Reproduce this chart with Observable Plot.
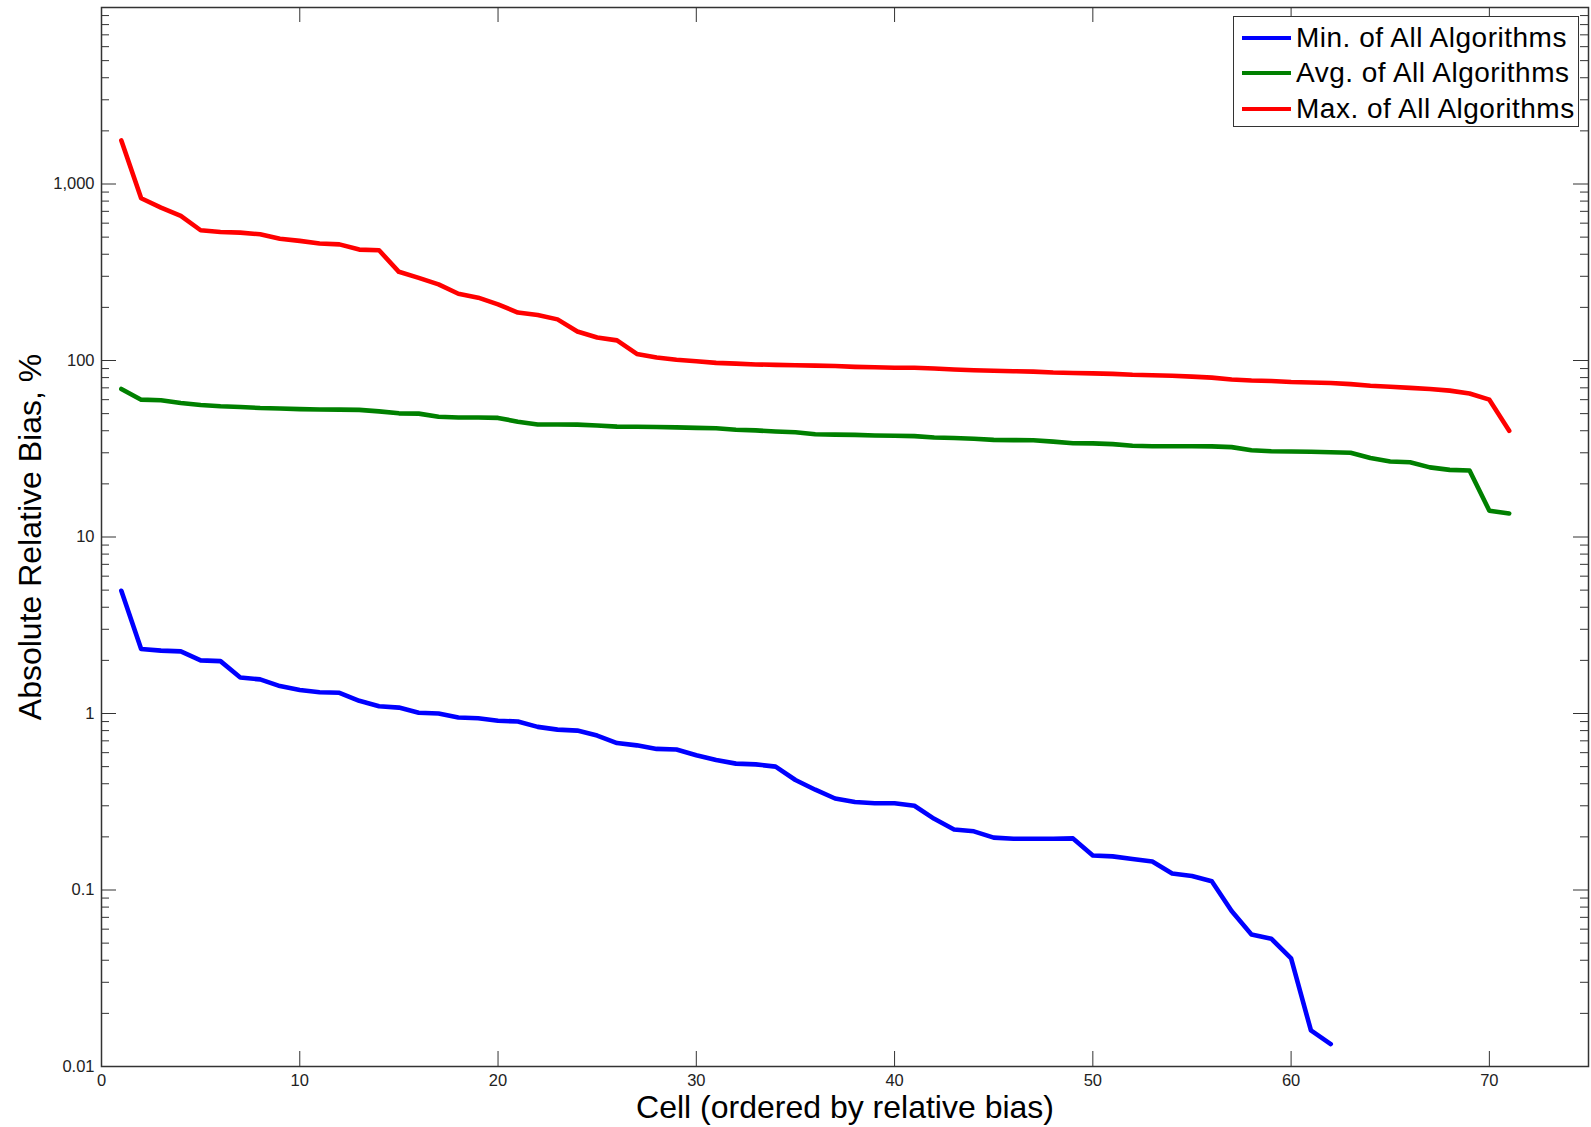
<!DOCTYPE html>
<html>
<head>
<meta charset="utf-8">
<script src="https://cdn.jsdelivr.net/npm/d3@7"></script>
<script src="https://cdn.jsdelivr.net/npm/@observablehq/plot@0.6"></script>
<style>
  body { margin: 0; background: #fff; font-family: "Liberation Sans", Arial, sans-serif; }
  #wrap { position: relative; width: 1591px; height: 1127px; }
  #legend { position: absolute; left: 1233px; top: 16px; width: 346px; height: 111px;
            border: 1px solid #333; background: #fff; box-sizing: border-box; }
  .row { position: absolute; left: 0; height: 36px; display: flex; align-items: center; }
  .swatch { width: 49px; height: 4px; margin-left: 8px; margin-right: 5px; }
  .lab { font-size: 28px; letter-spacing: 0.5px; color: #000; white-space: nowrap; }
</style>
</head>
<body>
<div id="wrap"></div>
<script>
// ---- data ----
const seriesNames = ["Min. of All Algorithms", "Avg. of All Algorithms", "Max. of All Algorithms"];
const seriesColors = ["#0000ff", "#008000", "#ff0000"];

const minValues = [4.96, 2.32, 2.27, 2.25, 2.0, 1.98, 1.6, 1.56, 1.43, 1.36,
  1.32, 1.31, 1.18, 1.1, 1.08, 1.01, 1.0, 0.95, 0.94, 0.91,
  0.90, 0.84, 0.81, 0.80, 0.75, 0.68, 0.66, 0.63, 0.625, 0.58,
  0.545, 0.52, 0.515, 0.50, 0.42, 0.37, 0.33, 0.315, 0.31, 0.31,
  0.30, 0.253, 0.22, 0.215, 0.198, 0.195, 0.195, 0.195, 0.196, 0.157,
  0.155, 0.150, 0.145, 0.124, 0.12, 0.112, 0.076, 0.056, 0.053, 0.041,
  0.016, 0.0134];

const avgValues = [69, 60, 59.5, 57.5, 56, 55, 54.5, 53.8, 53.5, 53,
  52.8, 52.7, 52.5, 51.5, 50.2, 50, 48, 47.5, 47.5, 47.3,
  45, 43.4, 43.4, 43.3, 42.8, 42.2, 42.1, 42, 41.8, 41.5,
  41.3, 40.5, 40.2, 39.6, 39.2, 38.2, 38, 37.9, 37.6, 37.5,
  37.3, 36.6, 36.4, 36, 35.5, 35.4, 35.3, 34.7, 34, 33.9,
  33.6, 32.9, 32.7, 32.7, 32.7, 32.6, 32.3, 31, 30.6, 30.5,
  30.4, 30.2, 30, 28, 26.8, 26.5, 24.8, 24, 23.8, 14.1, 13.6];

const maxValues = [1766, 830, 735, 659, 547, 535, 530, 519, 490, 476,
  460, 455, 425, 421, 318, 294, 270, 239, 227, 208,
  187, 181, 171, 146, 135, 130, 109, 104, 101, 99,
  97, 96, 95, 94.5, 94, 93.5, 93, 92, 91.5, 91,
  91, 90, 89, 88, 87.5, 87, 86.5, 85.5, 85, 84.5,
  84, 83, 82.5, 82, 81, 80, 78, 77, 76.5, 75.5,
  75, 74.5, 73.5, 72, 71, 70, 69, 67.5, 65, 60, 40];

const xTicks = [0, 10, 20, 30, 40, 50, 60, 70];
const yTicks = [0.01, 0.1, 1, 10, 100, 1000];
const xLabel = "Cell (ordered by relative bias)";
const yLabel = "Absolute Relative Bias, %";

// ---- build tidy table ----
const seriesValues = [minValues, avgValues, maxValues];
const rows = [];
seriesValues.forEach((vals, s) => vals.forEach((v, i) => rows.push({cell: i + 1, value: v, series: seriesNames[s]})));

const yMinor = [];
for (const d of yTicks) for (let k = 2; k <= 9; k++) yMinor.push(+(d * k).toPrecision(3));

// ---- layout ----
const W = 1591, H = 1127, ML = 101, MR = 3, MT = 7, MB = 61;
const plotW = W - ML - MR, plotH = H - MT - MB;
const axisColor = "#333";
const majorLen = 15, minorLen = 8;

const chart = Plot.plot({
  width: W, height: H,
  marginLeft: ML, marginRight: MR, marginTop: MT, marginBottom: MB,
  style: {fontFamily: "'Liberation Sans', Arial, sans-serif", color: "#222", background: "#fff"},
  x: {domain: [0, 75]},
  y: {type: "log", domain: [0.01, 10000]},
  color: {domain: seriesNames, range: seriesColors},
  marks: [
    // inward ticks (MATLAB style) on all four sides
    Plot.tickY(yTicks, {stroke: axisColor, insetRight: plotW - majorLen}),
    Plot.tickY(yTicks, {stroke: axisColor, insetLeft: plotW - majorLen}),
    Plot.tickY(yMinor, {stroke: axisColor, insetRight: plotW - minorLen}),
    Plot.tickY(yMinor, {stroke: axisColor, insetLeft: plotW - minorLen}),
    Plot.tickX(xTicks, {stroke: axisColor, insetTop: plotH - majorLen}),
    Plot.tickX(xTicks, {stroke: axisColor, insetBottom: plotH - majorLen}),
    Plot.line(rows, {x: "cell", y: "value", z: "series", stroke: "series", strokeWidth: 4.6}),
    Plot.frame({stroke: axisColor, strokeWidth: 1.5}),
    Plot.axisX(xTicks, {tickSize: 0, tickPadding: 8, fontSize: 16.5, label: null}),
    Plot.axisY(yTicks, {tickSize: 0, tickPadding: 7, fontSize: 16.5, label: null, tickFormat: d3.format(",")}),
    Plot.text([xLabel], {text: d => d, frameAnchor: "bottom", lineAnchor: "bottom", textAnchor: "middle", dy: 51, fontSize: 32, fill: "#000"}),
    Plot.text([yLabel], {text: d => d, frameAnchor: "left", rotate: -90, lineAnchor: "top", textAnchor: "middle", dx: -83, fontSize: 32, fill: "#000"})
  ]
});

const wrap = document.getElementById("wrap");
wrap.appendChild(chart);

// legend (HTML overlay, inside the axes box)
const legend = document.createElement("div");
legend.id = "legend";
const rowCenters = [20.5, 56, 91.5];
seriesNames.forEach((name, i) => {
  const r = document.createElement("div");
  r.className = "row";
  r.style.top = (rowCenters[i] - 18) + "px";
  const sw = document.createElement("div");
  sw.className = "swatch";
  sw.style.background = seriesColors[i];
  const t = document.createElement("span");
  t.className = "lab";
  t.textContent = name;
  r.appendChild(sw); r.appendChild(t);
  legend.appendChild(r);
});
wrap.appendChild(legend);
</script>
</body>
</html>
